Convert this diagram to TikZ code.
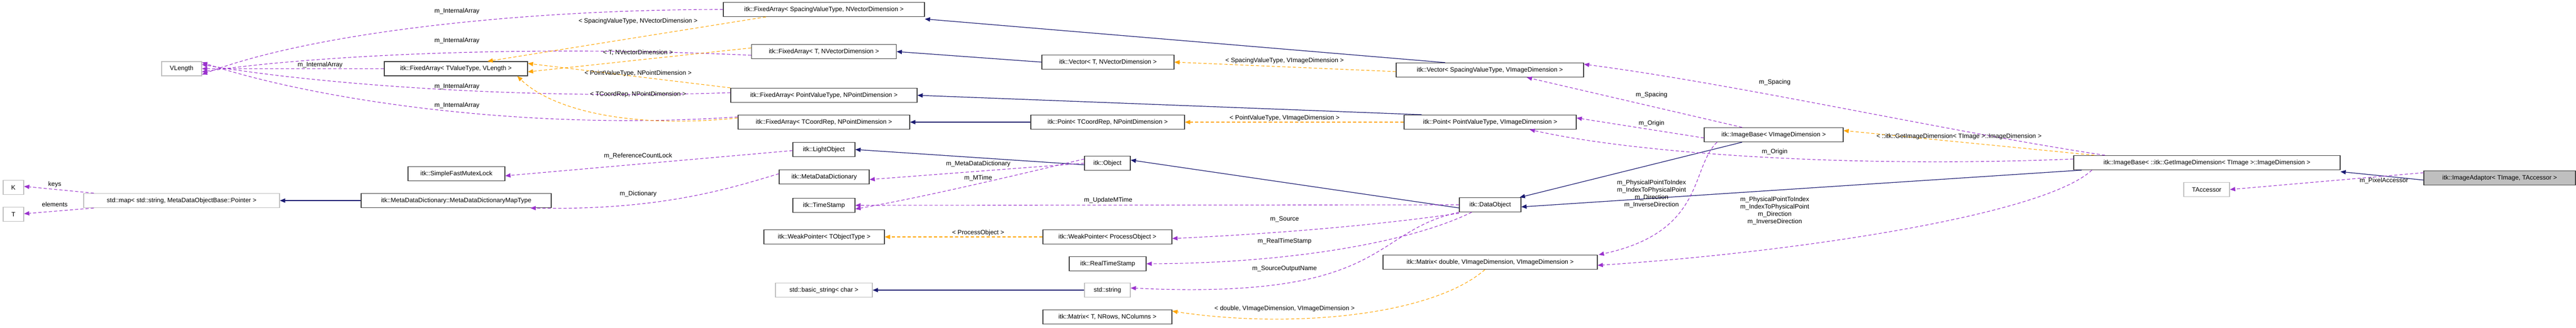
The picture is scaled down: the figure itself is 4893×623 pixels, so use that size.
\documentclass[tikz,border=0pt]{standalone}
\usepackage{fontspec}
\setmainfont{Liberation Sans}
\usetikzlibrary{arrows.meta}
\definecolor{navy}{HTML}{191970}
\definecolor{purp}{HTML}{9A32CD}
\definecolor{orng}{HTML}{FFA500}
\begin{document}
\begin{tikzpicture}[x=1pt,y=-1pt,
  box/.style={draw=black!75,line width=1.2pt,fill=white,rectangle,inner sep=0pt,minimum height=27pt,font=\fontsize{12}{14}\selectfont},
  gbox/.style={box,draw=black!25},
  tip/.style={-{Triangle[length=10pt,width=8pt]}},
  inh/.style={tip,draw=navy,line width=1.2pt},
  use/.style={tip,draw=purp,line width=1.1pt,dash pattern=on 6pt off 4pt},
  tmpl/.style={tip,draw=orng,line width=1.1pt,dash pattern=on 6pt off 4pt},
  lbl/.style={font=\fontsize{12}{14}\selectfont,inner sep=1pt,align=center}]
\useasboundingbox (0,0) rectangle (4893,623);
% nodes
\node[gbox,minimum width=76] (VL) at (345,130.5) {VLength};
\node[box,minimum width=272] (FAV) at (866,130.5) {itk::FixedArray< TValueType, VLength >};
\node[gbox,minimum width=39] (K) at (25.5,356) {K};
\node[gbox,minimum width=39] (T) at (25.5,407) {T};
\node[gbox,minimum width=372] (MAP) at (345,381) {std::map< std::string, MetaDataObjectBase::Pointer >};
\node[box,minimum width=184] (SFM) at (867,330) {itk::SimpleFastMutexLock};
\node[box,minimum width=361] (MDDM) at (866.5,381) {itk::MetaDataDictionary::MetaDataDictionaryMapType};
\node[box,minimum width=382] (FAS) at (1565,18) {itk::FixedArray< SpacingValueType, NVectorDimension >};
\node[box,minimum width=275] (FAT) at (1565,98) {itk::FixedArray< T, NVectorDimension >};
\node[box,minimum width=354] (FAP) at (1565,181) {itk::FixedArray< PointValueType, NPointDimension >};
\node[box,minimum width=326] (FAC) at (1565,232) {itk::FixedArray< TCoordRep, NPointDimension >};
\node[box,minimum width=118] (LO) at (1565,284) {itk::LightObject};
\node[box,minimum width=171] (MDD) at (1565.5,336) {itk::MetaDataDictionary};
\node[box,minimum width=118] (TS) at (1565,390) {itk::TimeStamp};
\node[box,minimum width=229] (WPT) at (1565.5,450) {itk::WeakPointer< TObjectType >};
\node[gbox,minimum width=184] (BS) at (1565,551) {std::basic\_string< char >};
\node[box,minimum width=251] (VT) at (2104.5,118) {itk::Vector< T, NVectorDimension >};
\node[box,minimum width=292] (PC) at (2104,232) {itk::Point< TCoordRep, NPointDimension >};
\node[box,minimum width=87] (OBJ) at (2103.5,310) {itk::Object};
\node[box,minimum width=245] (WPP) at (2103.5,450) {itk::WeakPointer< ProcessObject >};
\node[box,minimum width=146] (RTS) at (2104,501) {itk::RealTimeStamp};
\node[gbox,minimum width=87] (STR) at (2103.5,551) {std::string};
\node[box,minimum width=245] (MT) at (2103.5,602) {itk::Matrix< T, NRows, NColumns >};
\node[box,minimum width=356] (VS) at (2830,133) {itk::Vector< SpacingValueType, VImageDimension >};
\node[box,minimum width=327] (PP) at (2830.5,232) {itk::Point< PointValueType, VImageDimension >};
\node[box,minimum width=117] (DO) at (2830.5,389) {itk::DataObject};
\node[box,minimum width=407] (MD) at (2830.5,498) {itk::Matrix< double, VImageDimension, VImageDimension >};
\node[box,minimum width=264] (IBV) at (3369,256) {itk::ImageBase< VImageDimension >};
\node[box,minimum width=506] (IBI) at (4192,309) {itk::ImageBase< ::itk::GetImageDimension< TImage >::ImageDimension >};
\node[box,fill=black!25,minimum width=288] (IA) at (4748,338) {itk::ImageAdaptor< TImage, TAccessor >};
\node[gbox,minimum width=87] (TA) at (4191.5,360) {TAccessor};
% inheritance
\draw[inh] ([xshift=-85]VS.north) -- ([yshift=-4]FAS.south east);
\draw[inh] (VT.west) -- (FAT.east);
\draw[inh] ([xshift=-130]PP.north) -- (FAP.east);
\draw[inh] (PC.west) -- (FAC.east);
\draw[inh] ([yshift=-3]OBJ.west) -- (LO.east);
\draw[inh] (MDDM.west) -- (MAP.east);
\draw[inh] ([yshift=-6]DO.west) -- ([yshift=6]OBJ.east);
\draw[inh] (STR.west) -- (BS.east);
\draw[inh] ([xshift=-60]IBV.south) -- ([xshift=-3]DO.north east);
\draw[inh] ([xshift=16]IBI.south west) -- ([yshift=-4]DO.east);
\draw[inh] ([yshift=-4]IA.west) -- ([yshift=-3]IBI.south east);
% InternalArray
\draw[use] (FAS.west) .. controls (1000,18) and (600,60) .. ([yshift=-11]VL.east);
\node[lbl] (l1) at (868,21) {m\_InternalArray};
\draw[use] ([yshift=-7]FAT.west) .. controls (1000,85) and (600,105) .. ([yshift=-6]VL.east);
\node[lbl] (l2) at (868,77) {m\_InternalArray};
\draw[use] (FAV.west) -- (VL.east);
\node[lbl] (l3) at (608,123) {m\_InternalArray};
\draw[use] ([yshift=5]FAP.west) .. controls (1000,190) and (600,160) .. ([yshift=8]VL.east);
\node[lbl] (l4) at (868,164) {m\_InternalArray};
\draw[use] ([yshift=10]FAC.west) .. controls (1000,250) and (600,190) .. ([yshift=12]VL.east);
\node[lbl] (l5) at (868,200) {m\_InternalArray};
% template FixedArray
\draw[tmpl] ([xshift=-110]FAS.south) -- ([xshift=60]FAV.north);
\node[lbl] (l6) at (1212,40) {< SpacingValueType, NVectorDimension >};
\draw[tmpl] ([yshift=7]FAT.west) -- ([yshift=-6]FAV.east);
\node[lbl] (l7) at (1212,100) {< T, NVectorDimension >};
\draw[tmpl] (FAP.north west) -- ([yshift=10]FAV.east);
\node[lbl] (l8) at (1212,139) {< PointValueType, NPointDimension >};
\draw[tmpl] ([yshift=8]FAC.west) .. controls (1200,245) and (1050,210) .. ([xshift=-20]FAV.south east);
\node[lbl] (l9) at (1212,179) {< TCoordRep, NPointDimension >};
% vector / point templates
\draw[tmpl] ([yshift=-3]VS.west) -- (VT.east);
\node[lbl] (l10) at (2440,115) {< SpacingValueType, VImageDimension >};
\draw[tmpl] (PP.west) -- (PC.east);
\node[lbl] (l11) at (2440,224) {< PointValueType, VImageDimension >};
% object members
\draw[use] ([yshift=-2]LO.west) -- ([yshift=-4]SFM.east);
\node[lbl] (l12) at (1212,296) {m\_ReferenceCountLock};
\draw[use] (OBJ.west) -- ([yshift=-5]MDD.east);
\node[lbl] (l13) at (1858,311) {m\_MetaDataDictionary};
\draw[use] ([yshift=8]OBJ.west) .. controls (1900,340) and (1750,375) .. ([yshift=-7]TS.east);
\node[lbl] (l14) at (1858,338) {m\_MTime};
\draw[use] ([yshift=6]MDD.west) .. controls (1380,360) and (1250,400) .. ([xshift=-40]MDDM.south east);
\node[lbl] (l15) at (1212,368) {m\_Dictionary};
\draw[use] ([xshift=20]MAP.north west) -- ([yshift=2]K.east);
\node[lbl] (l16) at (104,350) {keys};
\draw[use] ([xshift=20]MAP.south west) -- ([yshift=1]T.east);
\node[lbl] (l17) at (104,388) {elements};
% data object members
\draw[use] (DO.west) -- (TS.east);
\node[lbl] (l18) at (2105,380) {m\_UpdateMTime};
\draw[use] ([yshift=-2]DO.south west) .. controls (2600,430) and (2400,445) .. ([yshift=-3]WPP.east);
\node[lbl] (l19) at (2440,416) {m\_Source};
\draw[tmpl] (WPP.west) -- (WPT.east);
\node[lbl] (l20) at (1858,442) {< ProcessObject >};
\draw[use] ([xshift=24]DO.south west) .. controls (2680,460) and (2450,500) .. (RTS.east);
\node[lbl] (l21) at (2440,458) {m\_RealTimeStamp};
\draw[use] (DO.south west) .. controls (2600,440) and (2640,570) .. ([yshift=4]STR.east);
\node[lbl] (l22) at (2440,511) {m\_SourceOutputName};
\draw[tmpl] ([xshift=-10]MD.south) .. controls (2720,600) and (2450,625) .. ([yshift=11]MT.east);
\node[lbl] (l23) at (2440,586) {< double, VImageDimension, VImageDimension >};
% image base members
\draw[use] ([xshift=-60]IBV.north) -- ([xshift=70]VS.south);
\node[lbl] (l24) at (3137,180) {m\_Spacing};
\draw[use] ([yshift=-6]IBV.west) -- ([yshift=8]PP.east);
\node[lbl] (l25) at (3137,234) {m\_Origin};
\draw[use] ([xshift=25]IBV.south west) .. controls (3210,320) and (3240,440) .. ([xshift=2]MD.north east);
\node[lbl] (l26) at (3137,368) {m\_PhysicalPointToIndex\\m\_IndexToPhysicalPoint\\m\_Direction\\m\_InverseDirection};
\draw[use] ([xshift=60]IBI.north west) .. controls (3700,250) and (3300,160) .. ([yshift=11]VS.east);
\node[lbl] (l27) at (3371,156) {m\_Spacing};
\draw[use] ([yshift=7]IBI.west) .. controls (3500,320) and (3100,290) .. ([xshift=75]PP.south);
\node[lbl] (l28) at (3371,288) {m\_Origin};
\draw[use] ([xshift=35]IBI.south west) .. controls (3880,410) and (3400,480) .. ([yshift=-6]MD.east);
\node[lbl] (l29) at (3371,400) {m\_PhysicalPointToIndex\\m\_IndexToPhysicalPoint\\m\_Direction\\m\_InverseDirection};
\draw[tmpl] ([xshift=40]IBI.north west) -- ([yshift=8]IBV.east);
\node[lbl] (l30) at (3721,259) {< ::itk::GetImageDimension< TImage >::ImageDimension >};
\draw[use] ([yshift=10]IA.west) -- (TA.east);
\node[lbl] (l31) at (4528,343) {m\_PixelAccessor};
\end{tikzpicture}
\end{document}
